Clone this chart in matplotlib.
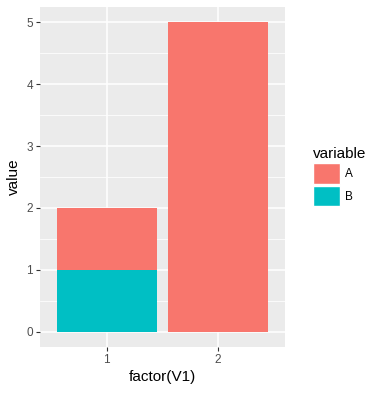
import numpy as np
import matplotlib
matplotlib.use("Agg")
import matplotlib.pyplot as plt
from matplotlib.patches import Patch

plt.rcParams['font.family'] = ['Liberation Sans', 'DejaVu Sans']

factors = ['1', '2']
variables = ['A', 'B']
values_A = [1, 5]
values_B = [1, 0]
colors = {'A': '#F8766D', 'B': '#00BFC4'}

fig = plt.figure(figsize=(3.73, 3.94), dpi=100)
ax = fig.add_axes([40 / 373, 47 / 394, 245 / 373, 340 / 394])
ax.set_facecolor('#EBEBEB')

x = np.arange(1, len(factors) + 1)
# B sits at the bottom of the stack, A on top (ggplot order)
ax.bar(x, values_B, width=0.9, color=colors['B'], zorder=3)
ax.bar(x, values_A, width=0.9, bottom=values_B, color=colors['A'], zorder=3)

ax.set_xlim(0.4, 2.6)
ax.set_ylim(-0.25, 5.25)
ax.set_xticks(x)
ax.set_xticklabels(factors)
ax.set_yticks(range(6))
ax.set_yticks(np.arange(0.5, 5, 1), minor=True)

ax.grid(which='major', color='white', linewidth=1.1, zorder=0)
ax.grid(which='minor', axis='y', color='white', linewidth=0.55, zorder=0)
ax.set_axisbelow(True)
for s in ax.spines.values():
    s.set_visible(False)

ax.tick_params(which='major', length=3, color='#333333', labelsize=8.5,
               labelcolor='#4D4D4D', pad=2, width=0.8)
ax.tick_params(which='minor', length=0)

ax.set_xlabel('factor(V1)', fontsize=11, labelpad=3)
ax.set_ylabel('value', fontsize=11, labelpad=4)

handles = [Patch(facecolor=colors[v], edgecolor='white', linewidth=1.0, label=v)
           for v in variables]
leg = fig.legend(handles=handles, title='variable', loc='upper left',
                 bbox_to_anchor=(302 / 373, 1 - 136 / 394), frameon=False,
                 fontsize=8.5, title_fontsize=11, handlelength=2.3,
                 handleheight=2.3, handletextpad=0.4, labelspacing=0.2,
                 alignment='left')

fig.savefig('out.png', dpi=100)
